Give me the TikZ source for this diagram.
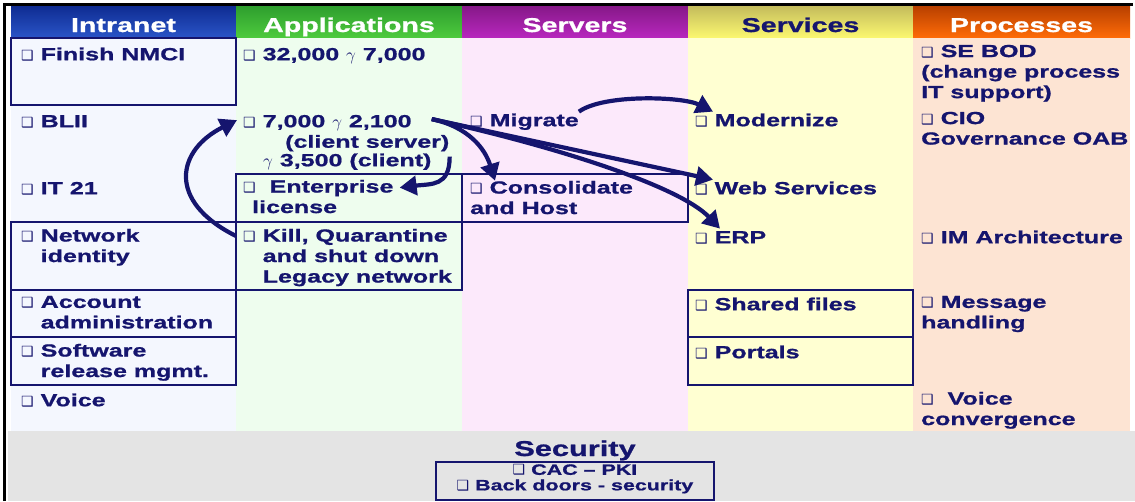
\documentclass[tikz,border=0pt]{standalone}
\usepackage{fontspec}
\setmainfont{Liberation Sans}[FakeStretch=1.43, BoldFeatures={FakeBold=1}]
\newfontfamily\symfont{DejaVu Sans}
\usetikzlibrary{arrows.meta}

\definecolor{navy}{HTML}{15156E}
\definecolor{intratop}{HTML}{0F2C92}
\definecolor{intrabot}{HTML}{2A55C8}
\definecolor{intrabody}{HTML}{F4F7FE}
\definecolor{apptop}{HTML}{2E9E2E}
\definecolor{appbot}{HTML}{4ECB3E}
\definecolor{appbody}{HTML}{EEFDEE}
\definecolor{servtop}{HTML}{861888}
\definecolor{servbot}{HTML}{B828BE}
\definecolor{servbody}{HTML}{FCE9FB}
\definecolor{svctop}{HTML}{C4BC5C}
\definecolor{svcbot}{HTML}{FCF870}
\definecolor{svcbody}{HTML}{FFFFD2}
\definecolor{proctop}{HTML}{B84000}
\definecolor{procbot}{HTML}{FF6C08}
\definecolor{procbody}{HTML}{FDE4D3}
\definecolor{secgrey}{HTML}{E4E4E4}

\newcommand\bodyfont{\fontsize{17.5}{20.5}\selectfont\bfseries}
\newcommand\headfont{\fontsize{20}{22}\selectfont\bfseries}
\newcommand\sqbul{{\symfont\fontsize{14}{10}\selectfont ❑}}
\newcommand\bxgap{\phantom{\sqbul\ }}

\begin{document}
\begin{tikzpicture}[
  x=1pt, y=-1pt,
  head/.style={anchor=base, inner sep=0pt, font=\headfont, text=white},
  item/.style={anchor=north west, inner sep=0pt, align=left, text=navy,
    font=\bodyfont, yshift=14.35pt, execute at begin node=\strut},
  cell/.style={draw=navy, line width=1.6pt, anchor=north west,
    inner sep=0pt, outer sep=0pt},
  sectitle/.style={anchor=base, inner sep=0pt, text=navy,
    font=\fontsize{21.5}{22}\selectfont\bfseries},
  secitem/.style={anchor=north, inner sep=0pt, align=center, text=navy,
    font=\fontsize{15}{15.5}\selectfont\bfseries, yshift=10.85pt,
    execute at begin node=\strut},
  arrow/.style={draw=navy, line width=4.2pt, -{Triangle[length=17pt,width=19pt]}},
]
  \useasboundingbox (0,0) rectangle (1135,501);
  \fill[white] (0,0) rectangle (1135,501);

  % columns
  \foreach \xa/\xb/\ct/\cb/\cf in {11/236/intratop/intrabot/intrabody,
      236/462/apptop/appbot/appbody, 462/688/servtop/servbot/servbody,
      688/913/svctop/svcbot/svcbody, 913/1130/proctop/procbot/procbody} {
    \shade[top color=\ct, bottom color=\cb] (\xa,6) rectangle (\xb,38);
    \fill[\cf] (\xa,38) rectangle (\xb,431);
  }
  \fill[secgrey] (8,431) rectangle (1135,501);
  \draw[line width=2.5pt] (4.5,501) -- (4.5,4.5) -- (1133,4.5);

  \node[head] (hintra) at (123.5,32) {Intranet};
  \node[head] (happ) at (349,32) {Applications};
  \node[head] (hserv) at (575,32) {Servers};
  \node[head, text=navy] (hsvc) at (800.5,32) {Services};
  \node[head] (hproc) at (1021.5,32) {Processes};

  % framed cells
  \node[cell, minimum width=225pt, minimum height=67pt] (nmcibox) at (11,38) {};
  \node[cell, minimum width=225pt, minimum height=68pt] (netbox) at (11,222) {};
  \node[cell, minimum width=225pt, minimum height=47pt] (acctbox) at (11,290) {};
  \node[cell, minimum width=225pt, minimum height=48pt] (softbox) at (11,337) {};
  \node[cell, minimum width=226pt, minimum height=48pt] (entbox) at (236,174) {};
  \node[cell, minimum width=226pt, minimum height=68pt] (killbox) at (236,222) {};
  \node[cell, minimum width=226pt, minimum height=48pt] (consbox) at (462,174) {};
  \node[cell, minimum width=225pt, minimum height=47pt] (sharedbox) at (688,290) {};
  \node[cell, minimum width=225pt, minimum height=48pt] (portbox) at (688,337) {};
  \node[cell, minimum width=278pt, minimum height=38pt] (secbox) at (436,462) {};

  % Intranet
  \node[item] (nmci) at (21,60) {\sqbul\ Finish NMCI};
  \node[item] (blii) at (21,127) {\sqbul\ BLII};
  \node[item] (it21) at (21,194) {\sqbul\ IT 21};
  \node[item] (netid) at (21,243) {\sqbul\ Network\\\bxgap identity};
  \node[item] (acct) at (21,310) {\sqbul\ Account\\\bxgap administration};
  \node[item] (soft) at (21,358) {\sqbul\ Software\\\bxgap release mgmt.};
  \node[item] (voice) at (21,406) {\sqbul\ Voice};

  % Applications
  \node[item] (app1) at (243,60) {\sqbul\ 32,000 \(\gamma\) 7,000};
  \node[item] (app2a) at (243,127) {\sqbul\ 7,000 \(\gamma\) 2,100};
  \node[item] (app2b) at (285,147.5) {(client server)};
  \node[item] (app2c) at (263,166) {\(\gamma\) 3,500 (client)};
  \node[item] (ent) at (243,194) {\sqbul\ \ Enterprise\\\hspace*{9pt}license};
  \node[item] (kill) at (243,243) {\sqbul\ Kill, Quarantine\\\bxgap and shut down\\\bxgap Legacy network};

  % Servers
  \node[item] (mig) at (470,126) {\sqbul\ Migrate};
  \node[item] (cons) at (470,195) {\sqbul\ Consolidate\\and Host};

  % Services
  \node[item] (mod) at (695,126) {\sqbul\ Modernize};
  \node[item] (web) at (695,194) {\sqbul\ Web Services};
  \node[item] (erp) at (695,243) {\sqbul\ ERP};
  \node[item] (shared) at (695,310) {\sqbul\ Shared files};
  \node[item] (portals) at (695,358) {\sqbul\ Portals};

  % Processes
  \node[item] (sebod) at (921,59) {\sqbul\ SE BOD\\(change process\\IT support)};
  \node[item] (cio) at (921,126) {\sqbul\ CIO\\Governance OAB};
  \node[item] (imarch) at (921,243) {\sqbul\ IM Architecture};
  \node[item] (msg) at (921,310) {\sqbul\ Message\\handling};
  \node[item] (vconv) at (921,406) {\sqbul\ \ Voice\\convergence};

  % Security
  \node[sectitle] (sectxt) at (575,456) {Security};
  \node[secitem] (secitems) at (575,475) {\sqbul\ CAC – PKI\\\sqbul\ Back doors - security};

  % arrows
  \coordinate (hub) at ([xshift=20pt,yshift=4pt]app2a.east);
  \draw[arrow] ([yshift=-14pt]killbox.north west) .. controls +(-70,-35) and +(-60,30) .. ([xshift=-6pt,yshift=3pt]app2a.west);
  \draw[arrow] ([xshift=18pt,yshift=-5pt]app2c.north east) .. controls +(0,30) and +(32,-4) .. ([xshift=6pt,yshift=-8pt]ent.north east);
  \draw[arrow] (mig.north east) .. controls +(25,-18) and +(-30,-15) .. ([xshift=18pt]mod.north west);
  \draw[arrow] (hub) .. controls +(37,8) and +(-10,-32) .. ([xshift=25pt]cons.north west);
  \draw[arrow] (hub) -- ([xshift=18pt]web.north west);
  \draw[arrow] (hub) .. controls +(127,28) and +(-40,-42) .. ([xshift=25pt]erp.north west);
\end{tikzpicture}
\end{document}
